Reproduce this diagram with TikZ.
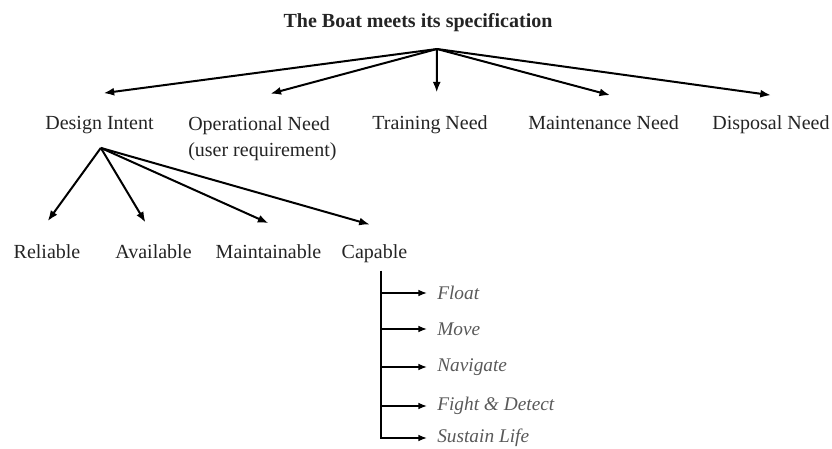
\documentclass[tikz,border=0pt]{standalone}
\usepackage{fontspec}
\setmainfont{Liberation Serif}
\usepackage{tikz}
\usetikzlibrary{arrows.meta}
\definecolor{inkgray}{rgb}{0.14,0.14,0.14}
\definecolor{softgray}{rgb}{0.35,0.35,0.35}
\tikzset{
  lbl/.style={inner sep=0pt, text=inkgray, font=\fontsize{15}{19.5}\selectfont},
  sub/.style={inner sep=0pt, inner xsep=7.5pt, anchor=west, text=softgray,
    font=\fontsize{14.5}{17}\selectfont\itshape},
  arr/.style={->, line width=1.5pt, >={Latex[length=8pt,width=6pt]}},
  thinarr/.style={->, line width=1pt, >={Latex[length=6.5pt,width=5pt]}}
}

\begin{document}
\begin{tikzpicture}[x=0.75pt, y=-0.75pt]
            \useasboundingbox (0,0) rectangle (832,449);

            % Titel
            \node[lbl, font=\fontsize{15}{18}\selectfont\bfseries, anchor=base] (title) at (418,28) {The Boat meets its specification};
            \coordinate (top) at (437,49);

            % erste Ebene
            \node[lbl, anchor=base] (di) at (99.5,130) {Design Intent};
            \node[lbl, anchor=north west, align=left] (on) at (188,116.4) {Operational Need\\(user requirement)};
            \node[lbl, anchor=base] (tn) at (430,130) {Training Need};
            \node[lbl, anchor=base] (mn) at (603.5,130) {Maintenance Need};
            \node[lbl, anchor=base] (dn) at (771,130) {Disposal Need};

            \draw[arr] (top) -- ([xshift=3pt,yshift=17.5pt]di.north);
            \draw[arr] (top) -- ([xshift=6pt,yshift=17pt]on.north);
            \draw[arr] (top) -- ([xshift=5pt,yshift=17.5pt]tn.north);
            \draw[arr] (top) -- ([xshift=5pt,yshift=15.5pt]mn.north);
            \draw[arr] (top) -- ([yshift=15.5pt]dn.north);

            % zweite Ebene
            \coordinate (fork) at ([xshift=1pt,yshift=-10pt]di.south);
            \node[lbl, anchor=base] (rel) at (47,258) {Reliable};
            \node[lbl, anchor=base] (ava) at (153.5,258) {Available};
            \node[lbl, anchor=base] (mai) at (268.5,258) {Maintainable};
            \node[lbl, anchor=base] (cap) at (374.5,258) {Capable};

            \draw[arr] (fork) -- ([xshift=0.5pt,yshift=17pt]rel.north);
            \draw[arr] (fork) -- ([xshift=-6pt,yshift=16pt]ava.north);
            \draw[arr] (fork) -- ([yshift=15.5pt]mai.north);
            \draw[arr] (fork) -- ([xshift=-3.5pt,yshift=14.5pt]cap.north);

            % Capable-Zweig
            \coordinate (spine) at ([xshift=5pt,yshift=-6pt]cap.south);
            \node[sub] (fl) at (427,293) {Float};
            \node[sub] (mv) at (427,329) {Move};
            \node[sub] (nv) at (427,367) {Navigate};
            \node[sub] (fd) at (427,406) {Fight \& Detect};
            \node[sub] (sl) at (427,438) {Sustain Life};

            \draw[line width=1.2pt] (spine) -- (spine |- sl.west);
            \draw[thinarr] (spine |- fl.west) -- (fl.west);
            \draw[thinarr] (spine |- mv.west) -- (mv.west);
            \draw[thinarr] (spine |- nv.west) -- (nv.west);
            \draw[thinarr] (spine |- fd.west) -- (fd.west);
            \draw[thinarr] ([xshift=-0.6pt]spine |- sl.west) -- (sl.west);
\end{tikzpicture}
\end{document}
